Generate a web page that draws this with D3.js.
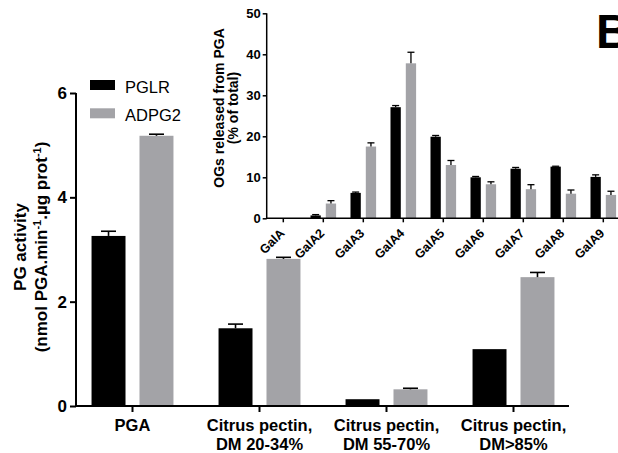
<!DOCTYPE html>
<html>
<head>
<meta charset="utf-8">
<script src="https://cdn.jsdelivr.net/npm/d3@7"></script>
<style>
  body { margin: 0; background: #fff; }
  svg { display: block; font-family: "Liberation Sans", Arial, sans-serif; }
</style>
</head>
<body>
<svg id="chart" width="618" height="453"></svg>
<script>
// main panel: PG activity per substrate
var substrates = [["PGA"], ["Citrus pectin,", "DM 20-34%"], ["Citrus pectin,", "DM 55-70%"], ["Citrus pectin,", "DM>85%"]];
var seriesNames = ["PGLR", "ADPG2"];
var pglrActivity = [3.26, 1.49, 0.13, 1.09];
var pglrActivityErr = [0.09, 0.08, 0, 0];
var adpg2Activity = [5.18, 2.82, 0.32, 2.47];
var adpg2ActivityErr = [0.03, 0.03, 0.02, 0.09];
var activityTicks = [0, 2, 4, 6];

// inset: oligogalacturonides released from PGA
var ogLabels = ["GalA", "GalA2", "GalA3", "GalA4", "GalA5", "GalA6", "GalA7", "GalA8", "GalA9"];
var pglrOG = [0, 0.7, 6.2, 27.1, 19.9, 10.0, 12.1, 12.6, 10.1];
var pglrOGErr = [0, 0.2, 0.2, 0.4, 0.3, 0.2, 0.3, 0.1, 0.5];
var adpg2OG = [0, 3.6, 17.5, 37.8, 13.0, 8.3, 7.1, 6.0, 5.7];
var adpg2OGErr = [0, 0.7, 0.9, 2.7, 1.1, 0.6, 1.1, 0.9, 0.9];
var ogTicks = [0, 10, 20, 30, 40, 50];

var colors = {PGLR: "#000000", ADPG2: "#a3a3a7"};
var svg = d3.select("#chart");

function rows(names, a, aErr, b, bErr) {
    return names.map(function (n, i) {
        return {key: i, bars: [
            {s: "PGLR", v: a[i], e: aErr[i]},
            {s: "ADPG2", v: b[i], e: bErr[i]}
        ]};
    });
}

/**
 * Draw a grouped bar chart with upper error bars.
 */
function drawBars(g, data, x, xs, y, capW, sw) {
    var grp = g.selectAll(".grp").data(data).enter().append("g")
        .attr("transform", d => "translate(" + x(d.key) + ",0)");
    grp.selectAll("rect").data(d => d.bars).enter().append("rect")
        .attr("x", d => xs(d.s))
        .attr("y", d => y(d.v))
        .attr("width", xs.bandwidth())
        .attr("height", d => y(0) - y(d.v))
        .style("fill", d => colors[d.s]);
    var eb = grp.selectAll(".err").data(d => d.bars.filter(b => b.e > 0)).enter().append("g");
    eb.append("line")
        .attr("x1", d => xs(d.s) + xs.bandwidth() / 2)
        .attr("x2", d => xs(d.s) + xs.bandwidth() / 2)
        .attr("y1", d => y(d.v))
        .attr("y2", d => y(d.v + d.e))
        .style("stroke", "#000").style("stroke-width", sw);
    eb.append("line")
        .attr("x1", d => xs(d.s) + xs.bandwidth() / 2 - capW / 2)
        .attr("x2", d => xs(d.s) + xs.bandwidth() / 2 + capW / 2)
        .attr("y1", d => y(d.v + d.e))
        .attr("y2", d => y(d.v + d.e))
        .style("stroke", "#000").style("stroke-width", sw);
}

// ---------- main chart ----------
var y = d3.scaleLinear().domain([0, 6]).range([406, 93]);
var x = d3.scaleBand().domain(d3.range(substrates.length)).range([69, 577]).padding(0);
var xs = d3.scaleBand().domain(seriesNames).range([0, x.bandwidth()])
    .paddingInner(0.2917).paddingOuter(0.47);

var main = svg.append("g");
drawBars(main, rows(substrates, pglrActivity, pglrActivityErr, adpg2Activity, adpg2ActivityErr), x, xs, y, 15, 1.6);

var yAxis = main.append("g")
    .attr("transform", "translate(76,0)")
    .call(d3.axisLeft(y).tickValues(activityTicks).tickFormat(d3.format("d")).tickSize(6).tickPadding(3));
yAxis.selectAll("line, path").style("stroke", "#000").style("stroke-width", 2);
yAxis.select(".domain").attr("d", "M0," + y(6) + "V" + y(0));
yAxis.selectAll("text").style("font-size", "17px").style("font-weight", "bold").style("fill", "#000")
    .attr("font-family", null);

var xAxis = main.append("g")
    .attr("transform", "translate(0," + y(0) + ")")
    .call(d3.axisBottom(x).tickSize(6).tickFormat(""));
xAxis.selectAll("line, path").style("stroke", "#000").style("stroke-width", 2);
xAxis.select(".domain").attr("d", "M75,0H569");

main.selectAll(".xlab").data(substrates).enter().append("text")
    .attr("x", (d, i) => x(i) + x.bandwidth() / 2)
    .attr("text-anchor", "middle")
    .style("font-size", "16.5px").style("font-weight", "bold")
    .selectAll("tspan").data(d => d).enter().append("tspan")
    .attr("x", function () { return d3.select(this.parentNode).attr("x"); })
    .attr("y", (d, i) => 431 + i * 18.5)
    .text(d => d);

// y title
var yt = main.append("text")
    .attr("transform", "translate(26,247) rotate(-90)")
    .attr("text-anchor", "middle")
    .style("font-size", "17px").style("font-weight", "bold");
yt.append("tspan").attr("x", 0).attr("y", 0).text("PG activity");
var l2 = yt.append("tspan").attr("x", 0).attr("y", 21);
l2.append("tspan").text("(nmol PGA.min");
l2.append("tspan").attr("baseline-shift", "super").style("font-size", "11px").text("-1");
l2.append("tspan").text(".µg prot");
l2.append("tspan").attr("baseline-shift", "super").style("font-size", "11px").text("-1");
l2.append("tspan").text(")");

// legend
var leg = main.selectAll(".leg").data(seriesNames).enter().append("g")
    .attr("transform", (d, i) => "translate(90," + (80 + i * 28.3) + ")");
leg.append("rect").attr("width", 25).attr("height", 10).style("fill", d => colors[d]);
leg.append("text").attr("x", 35).attr("y", 13).style("font-size", "16.5px").text(d => d);

// ---------- inset ----------
var y2 = d3.scaleLinear().domain([0, 50]).range([218.3, 13.3]);
var x2 = d3.scaleBand().domain(d3.range(ogLabels.length)).range([263.3, 623.3]).padding(0);
var xs2 = d3.scaleBand().domain(seriesNames).range([0, x2.bandwidth()])
    .paddingInner(0.327).paddingOuter(0.47);

var inset = svg.append("g");
drawBars(inset, rows(ogLabels, pglrOG, pglrOGErr, adpg2OG, adpg2OGErr), x2, xs2, y2, 7, 1.3);

var yAxis2 = inset.append("g")
    .attr("transform", "translate(266.7,0)")
    .call(d3.axisLeft(y2).tickValues(ogTicks).tickSize(4).tickPadding(2));
yAxis2.selectAll("line, path").style("stroke", "#000").style("stroke-width", 1.5);
yAxis2.select(".domain").attr("d", "M0," + y2(50) + "V" + y2(0));
yAxis2.selectAll("text").style("font-size", "13px").style("font-weight", "bold").style("fill", "#000")
    .attr("font-family", null);

var xAxis2 = inset.append("g")
    .attr("transform", "translate(0," + y2(0) + ")")
    .call(d3.axisBottom(x2).tickSize(4).tickFormat(""));
xAxis2.selectAll("line, path").style("stroke", "#000").style("stroke-width", 1.5);
xAxis2.select(".domain").attr("d", "M266,0H618");

inset.selectAll(".oglab").data(ogLabels).enter().append("text")
    .attr("transform", (d, i) => "translate(" + (x2(i) + x2.bandwidth() / 2 + 2) + ",234) rotate(-45)")
    .attr("text-anchor", "end")
    .style("font-size", "12.5px").style("font-weight", "bold")
    .text(d => d);

var yt2 = inset.append("text")
    .attr("transform", "translate(224,108) rotate(-90)")
    .attr("text-anchor", "middle")
    .style("font-size", "14px").style("font-weight", "bold");
yt2.append("tspan").attr("x", 0).attr("y", 0).text("OGs released from PGA");
yt2.append("tspan").attr("x", 0).attr("y", 14).text("(% of total)");

// panel letter
svg.append("text").attr("x", 596).attr("y", 48)
    .style("font-size", "48px").style("font-weight", "bold").text("B");
</script>
</body>
</html>
